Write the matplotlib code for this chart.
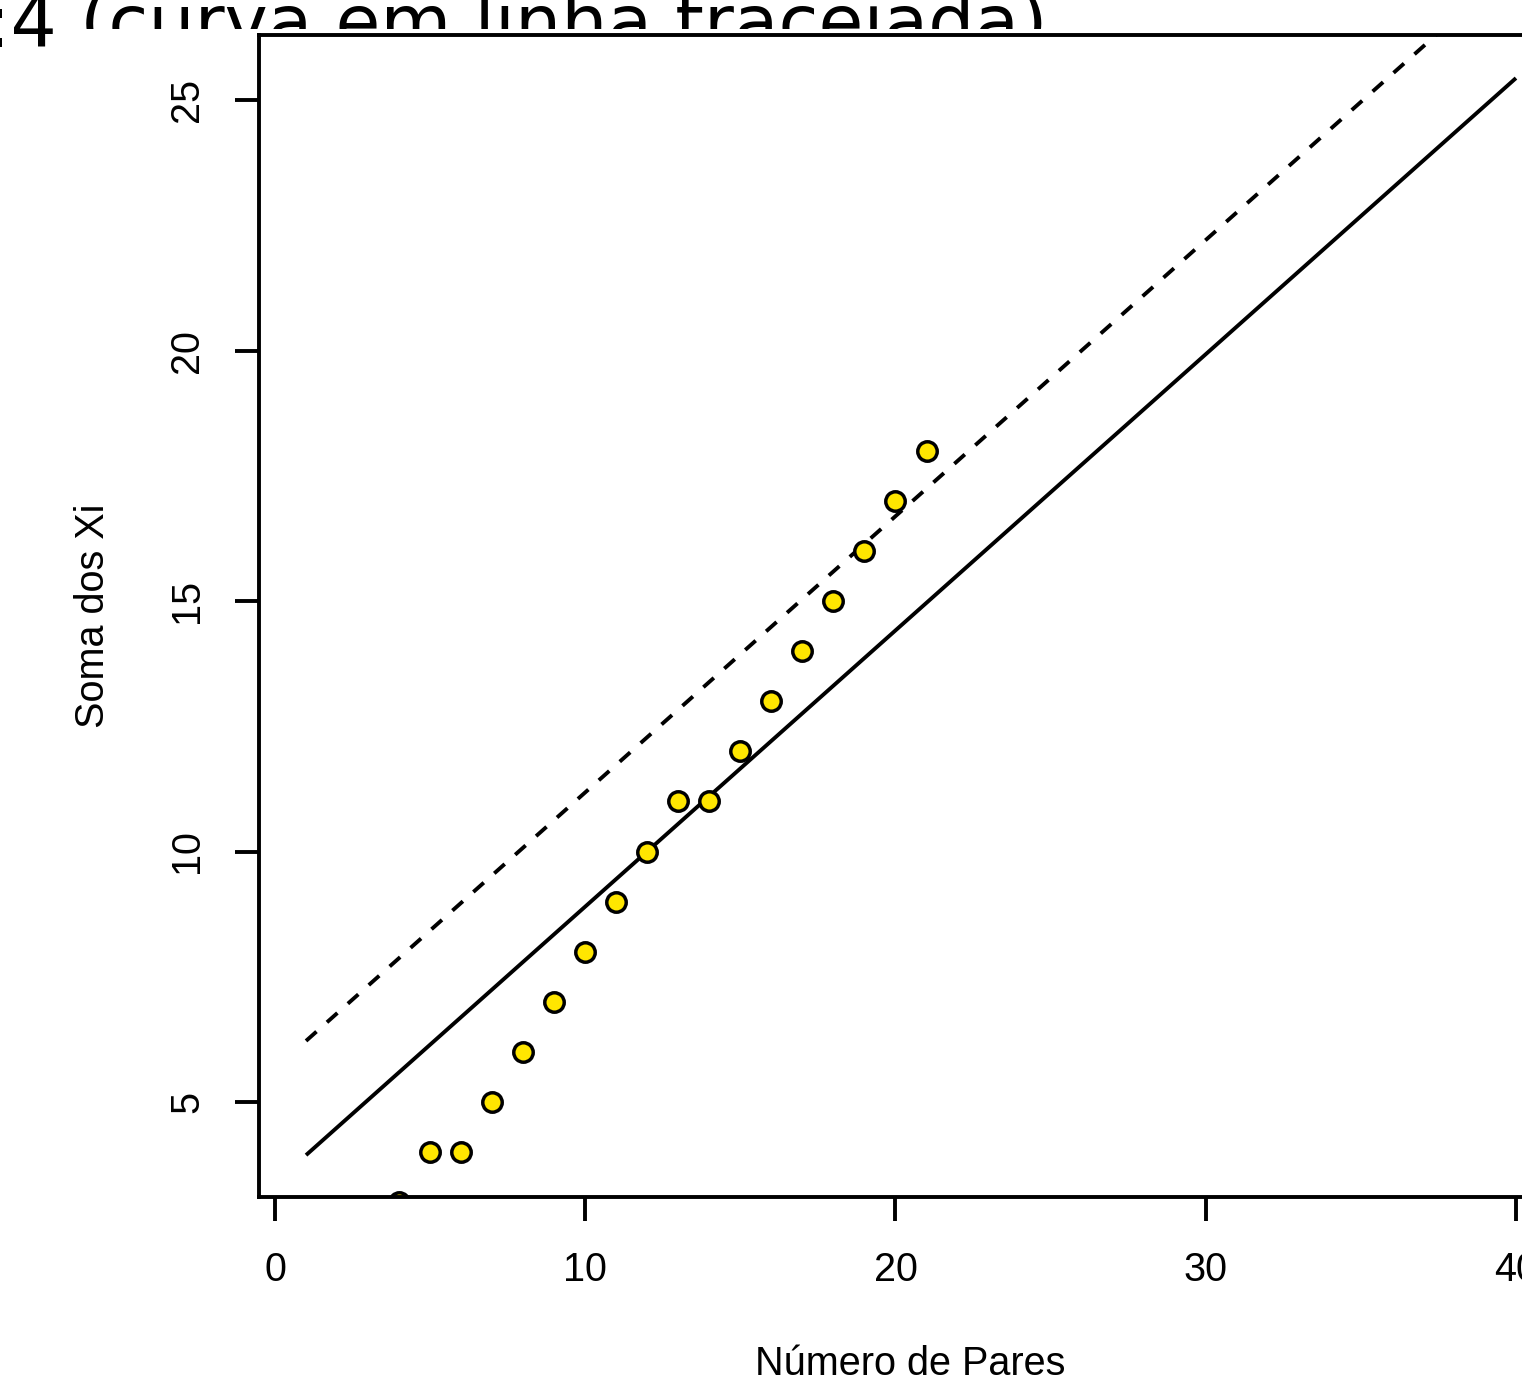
import matplotlib
matplotlib.use("Agg")
import matplotlib.pyplot as plt
from matplotlib.patches import Rectangle

# data
pairs = [4, 5, 6, 7, 8, 9, 10, 11, 12, 13, 14, 15, 16, 17, 18, 19, 20, 21]
soma_xi = [3, 4, 4, 5, 6, 7, 8, 9, 10, 11, 11, 12, 13, 14, 15, 16, 17, 18]
line_x = [1, 40]
solid_y = [3.94, 25.44]
dashed_y = [6.22, 27.72]
x_ticks = [0, 10, 20, 30, 40]
y_ticks = [5, 10, 15, 20, 25]
title_text = ":4 (curva em linha tracejada)"

W, H = 1522, 1378
fig = plt.figure(figsize=(W / 100, H / 100), dpi=100)
fig.patch.set_facecolor("white")

# title, partially hidden
fig.text(-14 / W, 1 - 47 / H, title_text, fontsize=52.5, family="DejaVu Sans",
         ha="left", va="baseline", zorder=0)
fig.patches.append(Rectangle((70 / W, 0), 1, 1 - 29 / H, transform=fig.transFigure,
                             facecolor="white", edgecolor="none", zorder=0.5))

ax = fig.add_axes([259 / W, 181 / H, (1529 - 259) / W, (1343 - 181) / H], zorder=1)
ax.set_xlim(-0.516, 40.42)
ax.set_ylim(3.104, 26.30)

lw = 2.8
ax.plot(line_x, solid_y, color="black", lw=lw, solid_capstyle="butt", zorder=2)
ax.plot(line_x, dashed_y, color="black", lw=lw, linestyle=(0, (3.6, 3.6)), zorder=2)
ax.plot(pairs, soma_xi, linestyle="none", marker="o", markersize=14,
        markerfacecolor="#FFE600", markeredgecolor="black", markeredgewidth=2.5, zorder=3)

for s in ax.spines.values():
    s.set_linewidth(lw)
    s.set_zorder(4)

tick_font = {"family": ["Liberation Sans", "DejaVu Sans"], "size": 28.5}
ax.set_xticks(x_ticks)
ax.set_xticklabels([str(v) for v in x_ticks], fontdict=tick_font)
ax.set_yticks(y_ticks)
ax.set_yticklabels([str(v) for v in y_ticks], fontdict=tick_font, rotation=90, va="center")
ax.tick_params(axis="both", length=17, width=lw, direction="out", color="black")
ax.tick_params(axis="x", pad=22)
ax.tick_params(axis="y", pad=21)

ax.set_xlabel("Número de Pares", fontdict=tick_font)
ax.set_ylabel("Soma dos Xi", fontdict=tick_font)
ax.xaxis.label.set_va("baseline")
ax.xaxis.set_label_coords(910 / W, (H - 1375) / H, transform=fig.transFigure)
ax.yaxis.label.set_va("center")
ax.yaxis.set_label_coords(93 / W, (H - 616) / H, transform=fig.transFigure)

fig.savefig("out.png", dpi=100)
